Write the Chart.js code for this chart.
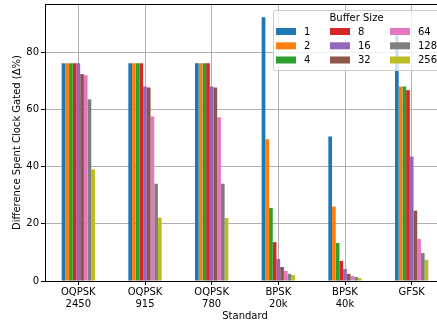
<!DOCTYPE html>
<html>
<head>
<meta charset="utf-8">
<script src="https://cdn.jsdelivr.net/npm/chart.js@4"></script>
<style>
  html, body { margin: 0; padding: 0; background: #fff; overflow: hidden; }
  #wrap { width: 450px; height: 326px; }
</style>
</head>
<body>
<div id="wrap"><canvas id="chart" width="450" height="326"></canvas></div>
<script>
// categories (two-line tick labels)
const standards = [
    ["OQPSK", "2450"], ["OQPSK", "915"], ["OQPSK", "780"],
    ["BPSK", "20k"], ["BPSK", "40k"], ["GFSK"]
];
const bufferSizes = ["1", "2", "4", "8", "16", "32", "64", "128", "256"];

// one series per buffer size, values per standard
const buf1   = [76.1, 76.1, 76.1, 92.2, 50.5, 87.0];
const buf2   = [76.1, 76.1, 76.1, 49.5, 26.0, 68.0];
const buf4   = [76.1, 76.1, 76.1, 25.5, 13.3, 68.0];
const buf8   = [76.1, 76.1, 76.1, 13.6,  7.0, 66.7];
const buf16  = [76.1, 68.0, 68.0,  7.7,  4.2, 43.5];
const buf32  = [72.3, 67.6, 67.6,  4.9,  2.5, 24.6];
const buf64  = [71.9, 57.5, 57.2,  3.5,  1.8, 14.7];
const buf128 = [63.5, 34.0, 34.0,  2.5,  1.4,  9.8];
const buf256 = [39.0, 22.1, 22.0,  2.1,  1.0,  7.4];
const seriesValues = [buf1, buf2, buf4, buf8, buf16, buf32, buf64, buf128, buf256];

const yTicks = [0, 20, 40, 60, 80];
const yMax = 96.8;

const colors = ["#1f77b4", "#ff7f0e", "#2ca02c", "#d62728", "#9467bd",
                "#8c564b", "#e377c2", "#7f7f7f", "#bcbd22"];

Chart.defaults.font.family = "'DejaVu Sans', sans-serif";
Chart.defaults.font.size = 10;
Chart.defaults.color = "#000";

/**
 * Top spine + matplotlib style legend (3 columns, column-major)
 */
const extrasPlugin = {
    id: "extras",
    afterDraw(chart) {
        const ctx = chart.ctx;
        const area = chart.chartArea;
        ctx.save();

        // top / right spines
        ctx.strokeStyle = "#000";
        ctx.lineWidth = 1;
        ctx.beginPath();
        ctx.moveTo(area.left, area.top + 0.5);
        ctx.lineTo(area.right, area.top + 0.5);
        ctx.moveTo(area.right - 0.5, area.top);
        ctx.lineTo(area.right - 0.5, area.bottom);
        ctx.stroke();

        // legend frame
        const lx = 273, ly = 10, lw = 167, lh = 60;
        ctx.fillStyle = "rgba(255,255,255,0.8)";
        ctx.strokeStyle = "#cccccc";
        ctx.beginPath();
        ctx.roundRect(lx + 0.5, ly + 0.5, lw, lh, 2);
        ctx.fill();
        ctx.stroke();

        ctx.fillStyle = "#000";
        ctx.font = "10px 'DejaVu Sans'";
        ctx.textAlign = "center";
        ctx.textBaseline = "middle";
        ctx.fillText("Buffer Size", lx + lw / 2, ly + 8);

        const colX = [276, 330, 390];
        const rowY = [31.5, 45.8, 60];
        ctx.textAlign = "left";
        chart.data.datasets.forEach((ds, i) => {
            const col = Math.floor(i / 3);
            const row = i % 3;
            ctx.fillStyle = ds.backgroundColor;
            ctx.fillRect(colX[col], rowY[row] - 3.5, 20, 7);
            ctx.fillStyle = "#000";
            ctx.fillText(ds.label, colX[col] + 28, rowY[row] + 0.5);
        });

        ctx.restore();
    }
};

const datasets = bufferSizes.map((size, i) => ({
    label: size,
    data: seriesValues[i],
    backgroundColor: colors[i],
    borderWidth: 0,
    categoryPercentage: 0.5,
    barPercentage: 1.0
}));

new Chart(document.getElementById("chart"), {
    type: "bar",
    data: { labels: standards, datasets: datasets },
    options: {
        responsive: false,
        animation: false,
        layout: { padding: { left: 0, top: 4, right: 5, bottom: 0 } },
        plugins: {
            legend: { display: false },
            tooltip: { enabled: false }
        },
        scales: {
            x: {
                z: 1,
                afterFit: s => {
                    s.height = 45;
                    s.paddingLeft = 0;
                    s.paddingRight = 0;
                },
                grid: {
                    offset: false,
                    color: "#b0b0b0",
                    lineWidth: 1,
                    tickColor: "#000",
                    tickLength: 4
                },
                border: { color: "#000", width: 1 },
                ticks: {
                    maxRotation: 0,
                    autoSkip: false,
                    padding: 2,
                    font: { lineHeight: 1.15 }
                },
                title: {
                    display: true,
                    text: "Standard",
                    padding: { top: 0, bottom: 4 }
                }
            },
            y: {
                z: 1,
                min: 0,
                max: yMax,
                afterFit: s => {
                    s.width = 45;
                    s.paddingTop = 0;
                    s.paddingBottom = 0;
                },
                afterBuildTicks: s => { s.ticks = yTicks.map(v => ({ value: v })); },
                grid: {
                    color: "#b0b0b0",
                    lineWidth: 1,
                    tickColor: "#000",
                    tickLength: 4
                },
                border: { color: "#000", width: 1 },
                ticks: { padding: 2 },
                title: {
                    display: true,
                    text: "Difference Spent Clock Gated (Δ%)",
                    padding: { top: 11.5, bottom: 0 }
                }
            }
        }
    },
    plugins: [extrasPlugin]
});
</script>
</body>
</html>
